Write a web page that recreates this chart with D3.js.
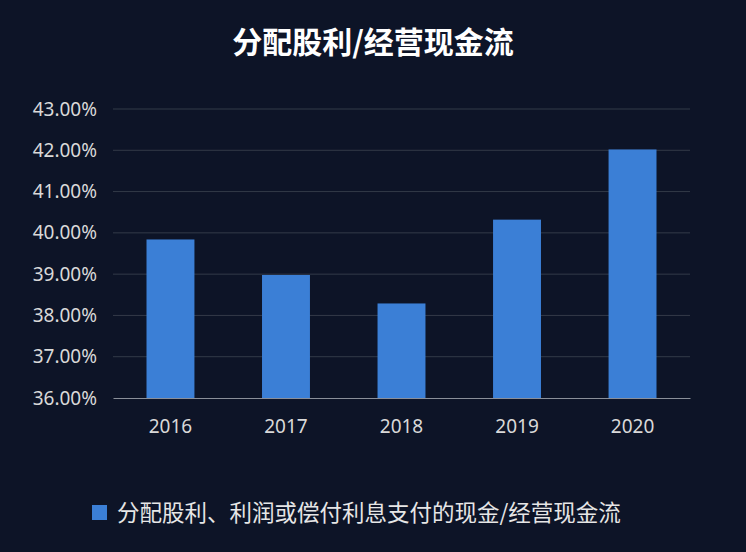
<!DOCTYPE html>
<html><head><meta charset="utf-8">
<script src="https://cdn.jsdelivr.net/npm/d3@7"></script>
<style>body{margin:0;background:#0d1427;}svg{display:block}</style>
</head><body><div id="chart"></div>
<script>
const years = ["2016", "2017", "2018", "2019", "2020"]
const ratios = [39.84, 38.98, 38.29, 40.32, 42.02]
const yTicks = [36, 37, 38, 39, 40, 41, 42, 43]

const width = 746, height = 552
const margins = { left: 113, right: 56, top: 109, bottom: 154 }

const svg = d3.select("#chart").append("svg").attr("width", width).attr("height", height)
svg.append("rect").attr("width", width).attr("height", height).attr("fill", "#0d1427")

svg.append("text").attr("x", width / 2).attr("y", 53).attr("text-anchor", "middle")
  .attr("fill", "#fff").attr("font-size", 30).attr("font-weight", "bold")
  .attr("font-family", "Noto Sans CJK SC").text("分配股利/经营现金流")

const xScale = d3.scaleBand().domain(years).range([margins.left, width - margins.right]).paddingInner(0.585).paddingOuter(0.29)
const yScale = d3.scaleLinear().domain([36, 43]).range([height - margins.bottom, margins.top])

// gridlines
svg.append("g").selectAll("line").data(yTicks.slice(1)).enter().append("line")
  .attr("x1", margins.left).attr("x2", width - margins.right)
  .attr("y1", d => yScale(d)).attr("y2", d => yScale(d))
  .attr("stroke", "#333a48").attr("stroke-width", 1)

const yAxis = d3.axisLeft(yScale).tickValues(yTicks).tickSize(0).tickPadding(16).tickFormat(d => d.toFixed(2) + "%")
svg.append("g").attr("transform", `translate(${margins.left},0)`).call(yAxis)
  .call(g => g.select(".domain").remove())
  .selectAll("text").attr("fill", "#d9d9d9").attr("font-size", 19).attr("font-family", "Noto Sans")

svg.selectAll("rect.bar").data(ratios).enter().append("rect").attr("class", "bar")
  .attr("x", (d, i) => xScale(years[i]))
  .attr("y", d => yScale(d))
  .attr("width", xScale.bandwidth())
  .attr("height", d => yScale(36) - yScale(d))
  .attr("fill", "#3b7fd6")

const xAxis = d3.axisBottom(xScale).tickSize(0).tickPadding(22)
svg.append("g").attr("transform", `translate(0,${yScale(36)})`).call(xAxis)
  .call(g => g.select(".domain").attr("stroke", "#8a8f99"))
  .selectAll("text").attr("fill", "#d9d9d9").attr("font-size", 19).attr("font-family", "Noto Sans")

const legend = svg.append("g").attr("transform", "translate(92,505)")
legend.append("rect").attr("width", 15).attr("height", 15).attr("fill", "#3b7fd6")
legend.append("text").attr("x", 25).attr("y", 16).attr("fill", "#e6e6e6").attr("font-size", 22.5)
  .attr("font-family", "Noto Sans CJK SC").text("分配股利、利润或偿付利息支付的现金/经营现金流")
</script></body></html>
